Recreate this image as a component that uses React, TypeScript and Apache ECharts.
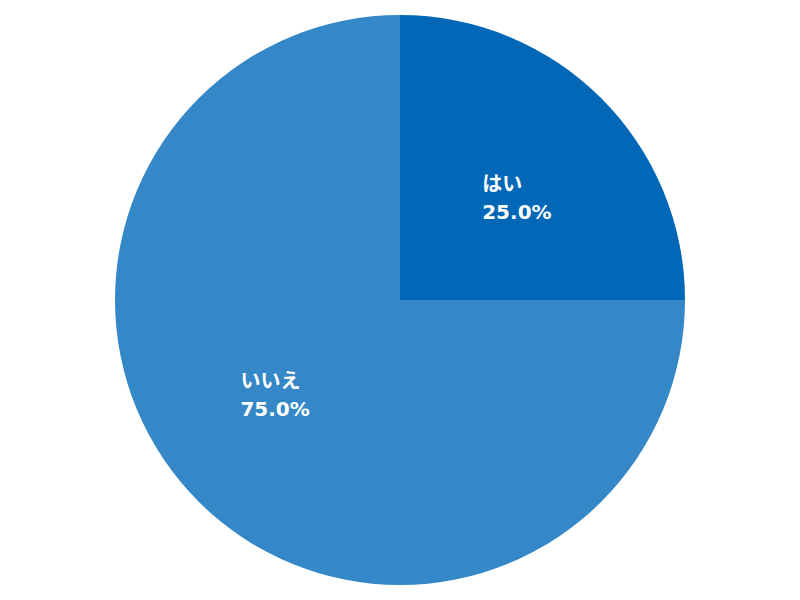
import React, { useEffect, useRef } from "react";
import * as echarts from "echarts";

const categories = ["はい", "いいえ"];
const values = [25.0, 75.0];
const colors = ["#0167B6", "#3488C7"];
const labelShift = [
  [14, 1],
  [-22, -8],
];

export default function App() {
  const ref = useRef<HTMLDivElement>(null);
  useEffect(() => {
    const chart = echarts.init(ref.current!, undefined, { renderer: "svg" });
    chart.setOption({
      animation: false,
      series: [
        {
          type: "pie",
          center: [400, 300],
          radius: [0, 285],
          startAngle: 90,
          clockwise: true,
          label: {
            show: true,
            position: "inside",
            formatter: (p: any) => `{a|${p.name}}\n{a|${p.value.toFixed(1)}%}`,
            rich: {
              a: {
                align: "left",
                color: "#ffffff",
                fontSize: 20,
                fontWeight: "bold",
                lineHeight: 28,
                fontFamily: "DejaVu Sans, Noto Sans CJK JP, sans-serif",
              },
            },
          },
          labelLine: { show: false },
          labelLayout: (p: any) => ({
            dx: labelShift[p.dataIndex][0],
            dy: labelShift[p.dataIndex][1],
          }),
          emphasis: { disabled: true },
          itemStyle: { borderWidth: 0 },
          data: categories.map((c, i) => ({
            name: c,
            value: values[i],
            itemStyle: { color: colors[i] },
          })),
        },
      ],
    });
    return () => chart.dispose();
  }, []);
  return <div ref={ref} style={{ width: 800, height: 600, position: "absolute", left: 0, top: 0 }} />;
}
